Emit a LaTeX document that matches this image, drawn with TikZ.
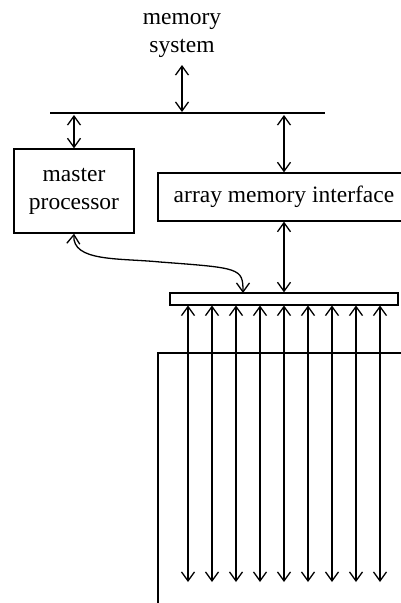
\documentclass[tikz,border=0pt]{standalone}
\usepackage{fontspec}
\setmainfont{Liberation Serif}
\usetikzlibrary{arrows.meta}
\begin{document}
\begin{tikzpicture}[x=1pt,y=-1pt,
  every node/.style={font=\fontsize{23.5}{28}\selectfont},
  box/.style={draw,line width=1.3pt,inner sep=0pt},
  link/.style={line width=1.3pt,{Straight Barb[length=9pt,width=13pt]}-{Straight Barb[length=9pt,width=13pt]}},
  busline/.style={line width=2.8pt}]
\useasboundingbox (0,0) rectangle (401,603);
\clip (0,0) rectangle (401,603);
% labels and boxes
\node[align=center] (mem) at (182,35) {memory\\system};
\node[box,minimum width=120pt,minimum height=84pt,align=center] (mp) at (74,191) {master\\processor};
\node[box,minimum width=252pt,minimum height=48pt] (ami) at (284,197) {array memory interface};
\node[box,minimum width=228pt,minimum height=12pt] (bar) at (284,299) {};
\node[box,minimum width=260pt,minimum height=260pt] (arr) at (288,483) {};
% bus
\coordinate (busL) at (50,113);
\coordinate (busR) at (325,113);
\draw[busline] (busL) -- (busR);
\coordinate (memB) at (182,65);
\coordinate (busM) at (182,112);
\coordinate (busA) at (74,115);
\coordinate (busB) at (284,115);
\draw[link] (memB) -- (busM);
\draw[link] (busA) -- (mp.north);
\draw[link] (busB) -- (ami.north);
\draw[link] (ami.south) -- (bar.north);
\coordinate (barIn) at (243,293);
\draw[link] (mp.south) .. controls (72,262) and (120,258) .. (160,262) .. controls (240,268) and (243,268) .. (barIn);
% column arrows
\foreach \i in {0,...,8}{
  \coordinate (t\i) at (188+24*\i,305.5);
  \coordinate (b\i) at (188+24*\i,582);
  \draw[link] (t\i) -- (b\i);
}
\end{tikzpicture}
\end{document}
